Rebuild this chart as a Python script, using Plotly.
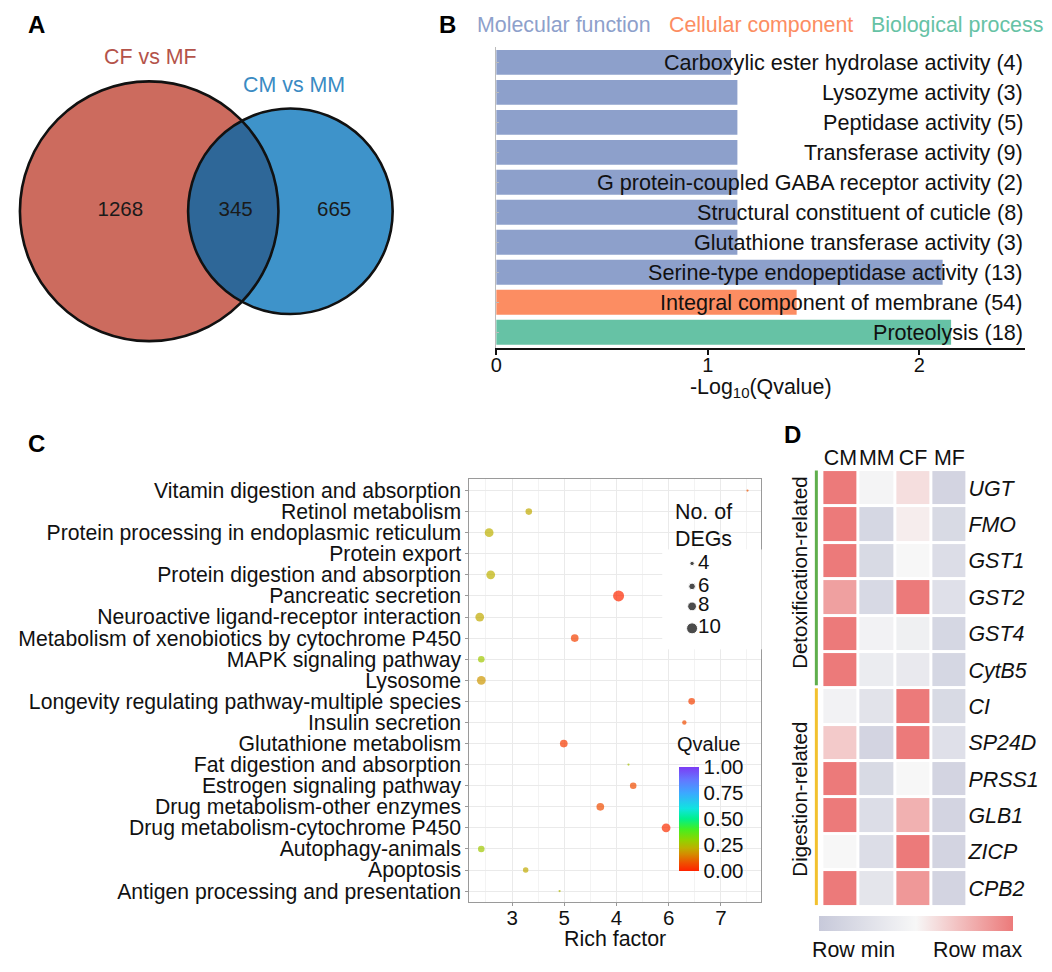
import numpy as np
import plotly.graph_objects as go

W, H = 1052, 972
FONT = "Liberation Sans, Arial, sans-serif"


def px(x):
    return x / W


def py(y):
    return 1 - y / H

# ---------------- Panel A data ----------------
venn_names = ["CF vs MF", "CM vs MM"]
venn_only_cf = 1268
venn_shared = 345
venn_only_cm = 665

# ---------------- Panel B data ----------------
go_terms = [
    "Carboxylic ester hydrolase activity",
    "Lysozyme activity",
    "Peptidase activity",
    "Transferase activity",
    "G protein-coupled GABA receptor activity",
    "Structural constituent of cuticle",
    "Glutathione transferase activity",
    "Serine-type endopeptidase activity",
    "Integral component of membrane",
    "Proteolysis",
]
go_counts = [4, 3, 5, 9, 2, 8, 3, 13, 54, 18]
go_neglogq = [1.11, 1.14, 1.14, 1.14, 1.14, 1.14, 1.14, 2.11, 1.42, 2.15]
go_class = ["MF", "MF", "MF", "MF", "MF", "MF", "MF", "MF", "CC", "BP"]
go_class_names = {"MF": "Molecular function", "CC": "Cellular component", "BP": "Biological process"}
go_class_colors = {"MF": "#8DA0CB", "CC": "#FC8D62", "BP": "#66C2A5"}

# ---------------- Panel C data ----------------
kegg_terms = [
    "Vitamin digestion and absorption",
    "Retinol metabolism",
    "Protein processing in endoplasmic reticulum",
    "Protein export",
    "Protein digestion and absorption",
    "Pancreatic secretion",
    "Neuroactive ligand-receptor interaction",
    "Metabolism of xenobiotics by cytochrome P450",
    "MAPK signaling pathway",
    "Lysosome",
    "Longevity regulating pathway-multiple species",
    "Insulin secretion",
    "Glutathione metabolism",
    "Fat digestion and absorption",
    "Estrogen signaling pathway",
    "Drug metabolism-other enzymes",
    "Drug metabolism-cytochrome P450",
    "Autophagy-animals",
    "Apoptosis",
    "Antigen processing and presentation",
]
rich_factor = [7.51, 3.32, 2.56, 7.51, 2.59, 5.04, 2.38, 4.20, 2.41, 2.41,
               6.44, 6.30, 3.99, 5.23, 5.32, 4.69, 5.95, 2.41, 3.26, 3.91]
deg_counts = [2, 6, 8, 2, 8, 10, 8, 7, 6, 8, 6, 4, 7, 2, 6, 7, 8, 6, 5, 2]
qvalues = [0.08, 0.21, 0.22, 0.08, 0.22, 0.01, 0.21, 0.05, 0.27, 0.18,
           0.05, 0.07, 0.04, 0.26, 0.07, 0.07, 0.02, 0.27, 0.21, 0.24]
rich_tickvals = [3, 4, 5, 6, 7]
rich_ticktext = ["3", "5", "4", "6", "7"]
size_legend_vals = [4, 6, 8, 10]
q_ticks = [0, 0.25, 0.5, 0.75, 1.0]

# ---------------- Panel D data ----------------
samples = ["CM", "MM", "CF", "MF"]
genes = ["UGT", "FMO", "GST1", "GST2", "GST4", "CytB5",
         "CI", "SP24D", "PRSS1", "GLB1", "ZICP", "CPB2"]
expr = [
    [1.00, 0.47, 0.60, 0.12],
    [1.00, 0.15, 0.54, 0.18],
    [1.00, 0.18, 0.50, 0.22],
    [0.85, 0.17, 1.00, 0.25],
    [1.00, 0.45, 0.42, 0.15],
    [1.00, 0.38, 0.35, 0.15],
    [0.45, 0.28, 1.00, 0.18],
    [0.68, 0.12, 1.00, 0.25],
    [1.00, 0.18, 0.50, 0.12],
    [1.00, 0.22, 0.78, 0.12],
    [0.50, 0.22, 1.00, 0.12],
    [1.00, 0.30, 0.88, 0.12],
]
gene_groups = ["Detoxification-related"] * 6 + ["Digestion-related"] * 6

fig = go.Figure()
shapes = []
annotations = []


def ann(x, y, text, size=21.4, color="#111111", xanchor="center", **kw):
    d = dict(x=px(x), y=py(y), xref="paper", yref="paper", text=text, showarrow=False,
             xanchor=xanchor, yanchor="middle", font=dict(family=FONT, size=size, color=color))
    d.update(kw)
    annotations.append(d)

# ================= Panel A : Venn =================
ca = np.array([144.0, 211.5])
dist = 142.0
k = 130.0 / np.sqrt(venn_only_cf + venn_shared)
r1 = k * np.sqrt(venn_only_cf + venn_shared)
r2 = k * np.sqrt(venn_only_cm + venn_shared)
cb = ca + np.array([dist, 0.0])

shapes.append(dict(type="circle", xref="x", yref="y", x0=ca[0] - r1, x1=ca[0] + r1,
                   y0=ca[1] - r1, y1=ca[1] + r1, fillcolor="#CC6B5E", line=dict(width=0), layer="below"))
shapes.append(dict(type="circle", xref="x", yref="y", x0=cb[0] - r2, x1=cb[0] + r2,
                   y0=cb[1] - r2, y1=cb[1] + r2, fillcolor="#3E93CA", line=dict(width=0), layer="below"))
a = (dist ** 2 + r1 ** 2 - r2 ** 2) / (2 * dist)
h = np.sqrt(r1 ** 2 - a ** 2)
t1 = np.arctan2(h, a)
t2 = np.arctan2(h, dist - a)
ang1 = np.linspace(-t1, t1, 60)
ang2 = np.linspace(np.pi - t2, np.pi + t2, 60)
pts = [(ca[0] + r1 * np.cos(t), ca[1] + r1 * np.sin(t)) for t in ang1]
pts += [(cb[0] + r2 * np.cos(t), cb[1] + r2 * np.sin(t)) for t in ang2]
path = "M " + " L ".join(f"{x:.2f},{y:.2f}" for x, y in pts) + " Z"
shapes.append(dict(type="path", xref="x", yref="y", path=path, fillcolor="#2E6798",
                   line=dict(width=0), layer="below"))
for c, r in [(ca, r1), (cb, r2)]:
    shapes.append(dict(type="circle", xref="x", yref="y", x0=c[0] - r, x1=c[0] + r,
                       y0=c[1] - r, y1=c[1] + r, fillcolor="rgba(0,0,0,0)",
                       line=dict(color="#111111", width=2.6), layer="above"))

fig.add_trace(go.Scatter(
    x=[115, 231, 330], y=[211, 211, 211], mode="text",
    text=[str(venn_only_cf), str(venn_shared), str(venn_only_cm)],
    textfont=dict(family=FONT, size=20.5, color="#1a1a1a"),
    xaxis="x", yaxis="y", hoverinfo="skip", showlegend=False))
ann(145, 57, venn_names[0], color="#B4534A")
ann(290, 85, venn_names[1], color="#3A8BC3")

# ================= Panel B : GO bars =================
fig.add_trace(go.Bar(
    x=go_neglogq, y=go_terms, orientation="h", width=0.83,
    marker=dict(color=[go_class_colors[c] for c in go_class], line=dict(width=0)),
    xaxis="x2", yaxis="y2", hoverinfo="skip", showlegend=False))
for term, cnt in zip(go_terms, go_counts):
    annotations.append(dict(x=2.5, y=term, xref="x2", yref="y2", xanchor="right", yanchor="middle",
                            text=f"{term} ({cnt})", showarrow=False,
                            font=dict(family=FONT, size=21.6, color="#111111")))
legend_x = [472, 665, 868]
for key, lx in zip(["MF", "CC", "BP"], legend_x):
    ann(lx, 25, go_class_names[key], color=go_class_colors[key], xanchor="left")
ann(759, 388, "-Log<sub>10</sub>(Qvalue)")

# ================= Panel C : KEGG dots =================
q_colorscale = [[0.0, "#FF2200"], [0.08, "#EE5200"], [0.16, "#D58A00"], [0.22, "#BDB000"],
                [0.3, "#8ED400"], [0.4, "#45EE20"], [0.5, "#00F08A"], [0.6, "#10E4E0"],
                [0.75, "#3CA8FF"], [0.88, "#6476FF"], [1.0, "#7C3CF4"]]
SIZEREF = 1 / 1.1
fig.add_trace(go.Scatter(
    x=rich_factor, y=kegg_terms, mode="markers",
    marker=dict(size=deg_counts, sizemode="diameter", sizeref=SIZEREF,
                color=qvalues, colorscale=q_colorscale, cmin=0, cmax=1, line=dict(width=0),
                showscale=True,
                colorbar=dict(x=px(677), xanchor="left", y=py(872), yanchor="bottom",
                              len=104 / H, lenmode="fraction", thickness=20,
                              xpad=0, ypad=0, outlinewidth=0, ticks="",
                              tickvals=q_ticks, ticktext=[f"{v:.2f}" for v in q_ticks],
                              tickfont=dict(family=FONT, size=20.5, color="#111111"))),
    xaxis="x3", yaxis="y3", hoverinfo="skip", showlegend=False))
ann(673, 745, "Qvalue", size=20, xanchor="left")
ann(612, 940, "Rich factor")
ann(671, 513, "No. of", xanchor="left")
ann(671, 540, "DEGs", xanchor="left")
leg_y = [564, 587, 607, 629]
fig.add_trace(go.Scatter(
    x=[690] * len(size_legend_vals), y=leg_y, mode="markers",
    marker=dict(size=size_legend_vals, sizemode="diameter", sizeref=SIZEREF, color="#000000"),
    xaxis="x5", yaxis="y5", hoverinfo="skip", showlegend=False))
fig.add_trace(go.Scatter(
    x=[696] * len(size_legend_vals), y=leg_y, mode="text", textposition="middle right",
    text=[str(v) for v in size_legend_vals],
    textfont=dict(family=FONT, size=20.5, color="#111111"),
    xaxis="x5", yaxis="y5", hoverinfo="skip", showlegend=False))

# ================= Panel D : heatmap =================
fig.add_trace(go.Heatmap(
    z=expr, x=samples, y=genes, zmin=0, zmax=1, xgap=3, ygap=3,
    colorscale=[[0, "#C7C9DA"], [0.5, "#F7F7F7"], [1, "#EC7A7A"]],
    showscale=True,
    colorbar=dict(orientation="h", x=px(818), xanchor="left", y=py(932), yanchor="bottom",
                  len=195 / W, lenmode="fraction", thickness=15, xpad=0, ypad=0,
                  outlinewidth=0, ticks="", showticklabels=False),
    xaxis="x4", yaxis="y4", hoverinfo="skip"))
ann(852, 951, "Row min")
ann(977, 951, "Row max")
group_spans = {"Detoxification-related": (471, 686, "#5FAE4C", 573),
               "Digestion-related": (689, 906, "#F2C12E", 800)}
for g in dict.fromkeys(gene_groups):
    y0, y1, col, yc = group_spans[g]
    shapes.append(dict(type="line", xref="paper", yref="paper", x0=px(815), x1=px(815),
                       y0=py(y0), y1=py(y1), line=dict(color=col, width=3)))
    ann(798, yc, g, size=20.5, textangle=-90)

# panel letters
for lab, (lx, ly) in {"A": (31, 25), "B": (444, 25), "C": (31, 444), "D": (791, 435)}.items():
    ann(lx, ly, f"<b>{lab}</b>", size=24, color="#000000")

fig.update_layout(
    width=W, height=H, margin=dict(l=0, r=0, t=0, b=0),
    paper_bgcolor="white", plot_bgcolor="white",
    font=dict(family=FONT, color="#111111"),
    showlegend=False,
    shapes=shapes, annotations=annotations,
    # A
    xaxis=dict(domain=[0, px(440)], range=[0, 440], visible=False, fixedrange=True),
    yaxis=dict(domain=[py(380), 1], range=[380, 0], visible=False, fixedrange=True),
    # B
    xaxis2=dict(domain=[px(493), px(1025)], range=[0, 2.5], anchor="y2",
                showline=True, linecolor="#111111", linewidth=1.6, ticks="outside",
                ticklen=6, tickwidth=1.5, tickcolor="#111111", tickvals=[0, 1, 2],
                ticklabelstandoff=-7,
                tickfont=dict(family=FONT, size=20, color="#111111"), showgrid=False, zeroline=False),
    yaxis2=dict(domain=[py(348), py(47)], anchor="x2", autorange=False, range=[9.515, -0.515],
                type="category", categoryorder="array", categoryarray=go_terms,
                showticklabels=False, showline=True, linecolor="#BBBBBB", linewidth=1,
                ticks="inside", ticklen=3, tickcolor="#BBBBBB", showgrid=False, zeroline=False),
    # C
    xaxis3=dict(domain=[px(466), px(759)], range=[2.181, 7.762], anchor="y3",
                tickmode="array", tickvals=rich_tickvals, ticktext=rich_ticktext,
                ticks="outside", ticklen=3, ticklabelstandoff=-6,
                tickcolor="#999999", tickfont=dict(family=FONT, size=20.5, color="#111111"),
                showgrid=True, gridcolor="#EAEAEA", gridwidth=1,
                minor=dict(dtick=0.5, tick0=2.5, showgrid=True, gridcolor="#F3F3F3", gridwidth=1),
                showline=True, mirror=True, linecolor="#9A9A9A", linewidth=1, zeroline=False),
    yaxis3=dict(domain=[py(903), py(479)], anchor="x3", type="category",
                categoryorder="array", categoryarray=kegg_terms, range=[19.52, -0.57],
                tickmode="array", tickvals=kegg_terms, ticktext=kegg_terms,
                ticks="outside", ticklen=3, tickcolor="#999999",
                tickfont=dict(family=FONT, size=21.2, color="#111111"),
                showgrid=True, gridcolor="#EAEAEA", gridwidth=1,
                showline=True, mirror=True, linecolor="#9A9A9A", linewidth=1, zeroline=False),
    # D
    xaxis4=dict(domain=[px(821), px(967)], anchor="y4", side="top", ticks="", tickangle=0,
                tickfont=dict(family=FONT, size=21.4, color="#111111"), showgrid=False,
                showline=False, zeroline=False),
    yaxis4=dict(domain=[py(907.5), py(470.5)], anchor="x4", side="right", ticks="",
                autorange="reversed", tickmode="array", tickvals=genes,
                ticktext=[f"<i>{g}</i>" for g in genes],
                tickfont=dict(family=FONT, size=21.4, color="#111111"), showgrid=False,
                showline=False, zeroline=False),
    # C size legend
    xaxis5=dict(domain=[px(660), px(760)], range=[660, 760], anchor="y5", visible=False),
    yaxis5=dict(domain=[py(650), py(550)], range=[650, 550], anchor="x5", visible=False),
)

fig.write_html("out.html", config={"displayModeBar": False},
               post_script="document.body.style.margin='0px';document.body.style.overflow='hidden';")
